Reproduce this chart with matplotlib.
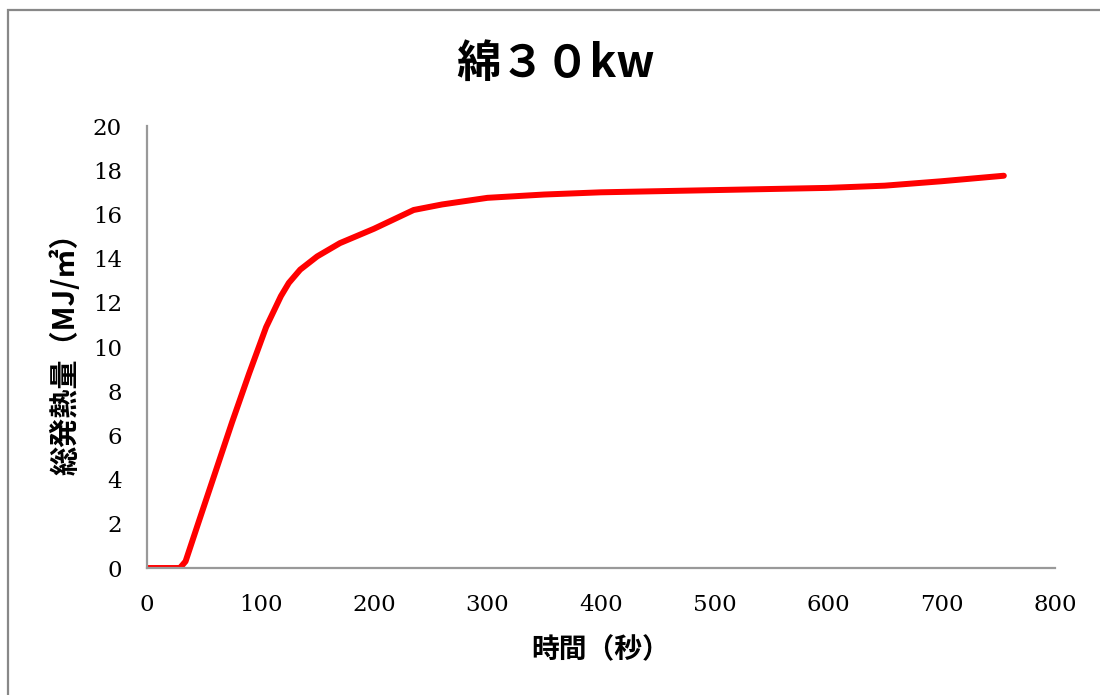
import matplotlib
matplotlib.use('Agg')
import matplotlib.pyplot as plt
from matplotlib.patches import Rectangle

plt.rcParams['font.family'] = ['Noto Sans CJK JP', 'DejaVu Sans']

# 時間（秒）と総発熱量（MJ/㎡）
time_s = [0, 29, 34, 45, 60, 75, 90, 105, 118, 125, 135, 150, 170, 200,
          235, 260, 300, 350, 400, 500, 600, 650, 700, 755]
heat = [0, 0, 0.3, 2.0, 4.3, 6.6, 8.8, 10.9, 12.3, 12.9, 13.5, 14.1, 14.7,
        15.35, 16.2, 16.45, 16.75, 16.9, 17.0, 17.1, 17.2, 17.3, 17.5, 17.75]

x_ticks = [0, 100, 200, 300, 400, 500, 600, 700, 800]
y_ticks = [0, 2, 4, 6, 8, 10, 12, 14, 16, 18, 20]

fig = plt.figure(figsize=(11, 6.95), dpi=100)
ax = fig.add_axes([0.1336, 0.1827, 0.959 - 0.1336, 0.8187 - 0.1827])

ax.plot(time_s, heat, color='#ff0000', lw=4.3, solid_capstyle='round',
        solid_joinstyle='round')

ax.set_xlim(0, 800)
ax.set_ylim(0, 20)
ax.set_xticks(x_ticks)
ax.set_yticks(y_ticks)
for lab in ax.get_xticklabels() + ax.get_yticklabels():
    lab.set_fontfamily('DejaVu Serif')
    lab.set_fontsize(16.5)
ax.tick_params(length=0)
ax.tick_params(axis='y', pad=18)
ax.tick_params(axis='x', pad=19)

for side in ['top', 'right']:
    ax.spines[side].set_visible(False)
for side in ['left', 'bottom']:
    ax.spines[side].set_color('#999999')
    ax.spines[side].set_linewidth(1.6)

ax.set_xlabel('時間（秒）', fontsize=20, fontweight='bold', labelpad=14)
ax.set_ylabel('総発熱量（MJ/㎡）', fontsize=21, fontweight='bold', labelpad=9)
fig.text(0.505, 0.908, '綿３０kw', ha='center', va='center',
         fontsize=32, fontweight='bold')

# 外枠
fig.patches.append(Rectangle((8 / 1100, -0.05), 1.1, (685 / 695) + 0.05,
                             transform=fig.transFigure, fill=False,
                             edgecolor='#888888', lw=1.6))

fig.savefig('out.png', dpi=100)
